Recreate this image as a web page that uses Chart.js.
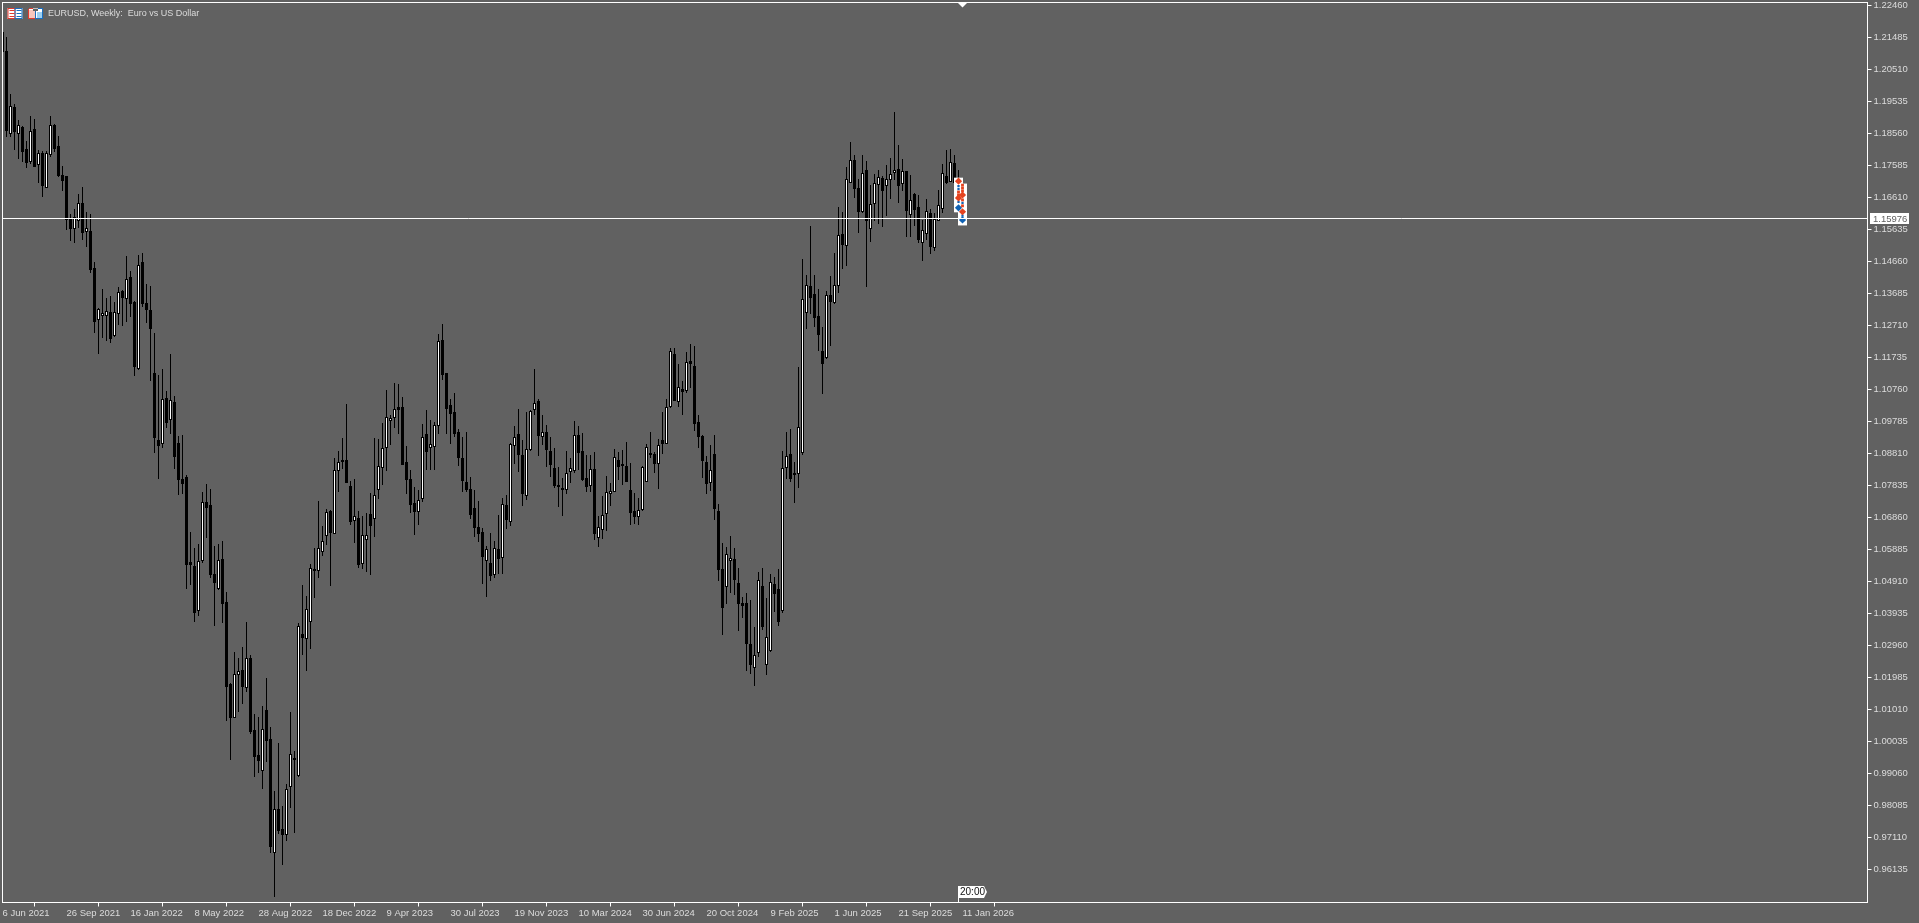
<!DOCTYPE html>
<html>
<head>
<meta charset="utf-8">
<style>html,body{margin:0;padding:0;background:#616161;overflow:hidden}canvas{display:block}</style>
<script src="https://cdn.jsdelivr.net/npm/chart.js@4"></script>
</head>
<body>
<canvas id="c" width="1919" height="923"></canvas>
<script>
const title = "EURUSD, Weekly:  Euro vs US Dollar";
const dateLabels = ["6 Jun 2021","26 Sep 2021","16 Jan 2022","8 May 2022","28 Aug 2022","18 Dec 2022","9 Apr 2023","30 Jul 2023","19 Nov 2023","10 Mar 2024","30 Jun 2024","20 Oct 2024","9 Feb 2025","1 Jun 2025","21 Sep 2025","11 Jan 2026"];
const priceTicks = [1.22460,1.21485,1.20510,1.19535,1.18560,1.17585,1.16610,1.15635,1.14660,1.13685,1.12710,1.11735,1.10760,1.09785,1.08810,1.07835,1.06860,1.05885,1.04910,1.03935,1.02960,1.01985,1.01010,1.00035,0.99060,0.98085,0.97110,0.96135];
const currentPrice = 1.15976;
const timeLabel = "20:00";
const opens = [
1.2164,1.2107,1.1853,1.1936,1.1853,1.1875,1.1808,1.1768,1.1869,1.1759,
1.1796,1.1689,1.1790,1.1881,1.1817,1.1729,1.1726,1.1599,1.1565,1.1589,
1.1644,1.1556,1.1559,1.1446,1.1287,1.1300,1.1300,1.1312,1.1239,1.1306,
1.1376,1.1352,1.1419,1.1342,1.1138,1.1464,1.1339,1.1318,1.1126,1.0921,
1.0909,1.1049,1.0982,1.1037,1.0912,1.0802,1.0809,1.0550,1.0538,1.0401,
1.0553,1.0733,1.0724,1.0514,1.0468,1.0559,1.0428,1.0178,1.0075,1.0206,
1.0221,1.0166,1.0258,1.0038,0.9962,0.9913,1.0099,1.0011,0.9664,0.9798,
0.9737,0.9719,0.9864,0.9953,0.9898,1.0331,1.0316,1.0367,1.0529,1.0523,
1.0580,1.0630,1.0706,1.0636,1.0827,1.0861,1.0861,1.0781,1.0675,1.0684,
1.0544,1.0617,1.0697,1.0681,1.0769,1.0836,1.0897,1.0979,1.0988,1.1022,
1.1022,1.0855,1.0803,1.0730,1.0703,1.0742,1.0939,1.0897,1.0900,1.0964,
1.1226,1.1126,1.1028,1.1006,1.0945,1.0867,1.0793,1.0772,1.0715,1.0657,
1.0642,1.0553,1.0547,1.0511,1.0590,1.0562,1.0724,1.0672,1.0903,1.0939,
1.0876,1.0751,1.0891,1.1013,1.1040,1.0931,1.0945,1.0888,1.0836,1.0784,
1.0775,1.0769,1.0824,1.0827,1.0936,1.0888,1.0806,1.0781,1.0833,1.0624,
1.0648,1.0697,1.0757,1.0763,1.0861,1.0848,1.0842,1.0769,1.0706,1.0687,
1.0709,1.0793,1.0882,1.0879,1.0848,1.0921,1.0909,1.1022,1.1184,1.1037,
1.1077,1.1071,1.1162,1.1147,1.0976,1.0933,1.0855,1.0790,1.0879,1.0706,
1.0529,1.0474,1.0553,1.0559,1.0486,1.0425,1.0425,1.0300,1.0227,1.0273,
1.0477,1.0236,1.0279,1.0483,1.0468,1.0401,1.0836,1.0879,1.0815,1.0818,
1.0882,1.1309,1.1391,1.1367,1.1300,1.1193,1.1171,1.1364,1.1339,1.1391,
1.1549,1.1513,1.1704,1.1774,1.1689,1.1617,1.1744,1.1565,1.1641,1.1698,
1.1720,1.1695,1.1714,1.1735,1.1747,1.1701,1.1741,1.1608,1.1671,1.1632,
1.1522,1.1549,1.1614,1.1507,1.1589,1.1626,1.1726,1.1707,1.1765,1.1698,1.1638];
const highs = [
1.2164,1.2149,1.1975,1.1945,1.1896,1.1878,1.1832,1.1909,1.1900,1.1805,
1.1802,1.1802,1.1909,1.1884,1.1848,1.1756,1.1726,1.1611,1.1626,1.1671,
1.1692,1.1617,1.1611,1.1464,1.1324,1.1382,1.1355,1.1361,1.1342,1.1388,
1.1379,1.1483,1.1437,1.1345,1.1486,1.1492,1.1397,1.1391,1.1248,1.1120,
1.1138,1.1071,1.1184,1.1056,1.0933,1.0936,1.0815,1.0642,1.0593,1.0605,
1.0763,1.0787,1.0772,1.0599,1.0605,1.0614,1.0459,1.0181,1.0276,1.0258,
1.0291,1.0367,1.0267,1.0087,1.0078,1.0111,1.0197,1.0047,0.9852,0.9998,
0.9807,0.9873,1.0093,0.9974,1.0364,1.0480,1.0447,1.0544,1.0593,1.0736,
1.0660,1.0712,1.0709,1.0867,1.0888,1.0928,1.1031,1.0796,1.0803,1.0706,
1.0690,1.0700,1.0760,1.0928,1.0925,1.0973,1.1074,1.0997,1.1095,1.1092,
1.1053,1.0903,1.0830,1.0778,1.0769,1.0970,1.1013,1.0982,1.0976,1.1245,
1.1275,1.1126,1.1046,1.1065,1.0955,1.0931,1.0945,1.0809,1.0769,1.0736,
1.0654,1.0599,1.0639,1.0614,1.0693,1.0745,1.0754,1.0912,1.0964,1.1016,
1.0921,1.1006,1.1013,1.1138,1.1046,1.0997,1.0967,1.0931,1.0897,1.0839,
1.0806,1.0888,1.0867,1.0979,1.0964,1.0942,1.0876,1.0876,1.0885,1.0690,
1.0751,1.0812,1.0790,1.0894,1.0885,1.0891,1.0915,1.0852,1.0760,1.0745,
1.0842,1.0909,1.0945,1.0885,1.0925,1.1006,1.1046,1.1202,1.1202,1.1153,
1.1101,1.1190,1.1214,1.1208,1.0997,1.0936,1.0873,1.0906,1.0936,1.0727,
1.0608,1.0596,1.0630,1.0593,1.0532,1.0444,1.0456,1.0434,1.0352,1.0520,
1.0532,1.0441,1.0514,1.0505,1.0529,1.0888,1.0945,1.0955,1.0855,1.1144,
1.1473,1.1425,1.1574,1.1425,1.1382,1.1266,1.1376,1.1422,1.1492,1.1632,
1.1617,1.1753,1.1829,1.1790,1.1717,1.1790,1.1771,1.1698,1.1732,1.1744,
1.1726,1.1759,1.1781,1.1921,1.1820,1.1778,1.1741,1.1729,1.1674,1.1668,
1.1592,1.1656,1.1626,1.1614,1.1683,1.1762,1.1805,1.1808,1.1790,1.1744,1.1690];
const lows = [
1.2104,1.1844,1.1844,1.1805,1.1778,1.1768,1.1750,1.1762,1.1753,1.1704,
1.1662,1.1689,1.1784,1.1799,1.1723,1.1680,1.1562,1.1528,1.1522,1.1568,
1.1531,1.1510,1.1431,1.1248,1.1184,1.1233,1.1223,1.1217,1.1236,1.1272,
1.1269,1.1281,1.1297,1.1117,1.1135,1.1327,1.1278,1.1101,1.0882,1.0803,
1.0897,1.0958,1.0939,1.0833,1.0754,1.0757,1.0468,1.0480,1.0367,1.0386,
1.0547,1.0624,1.0502,1.0355,1.0465,1.0364,1.0065,0.9946,1.0075,1.0093,
1.0117,1.0154,1.0026,0.9895,0.9907,0.9858,0.9940,0.9664,0.9530,0.9722,
0.9627,0.9700,0.9801,0.9725,0.9895,1.0267,1.0218,1.0285,1.0441,1.0502,
1.0568,1.0602,1.0477,1.0636,1.0763,1.0833,1.0790,1.0663,1.0608,1.0532,
1.0529,1.0520,1.0511,1.0627,1.0742,1.0784,1.0827,1.0906,1.0958,1.0939,
1.0845,1.0757,1.0700,1.0633,1.0663,1.0733,1.0830,1.0830,1.0830,1.0939,
1.1104,1.0939,1.0909,1.0931,1.0842,1.0763,1.0763,1.0681,1.0627,1.0611,
1.0483,1.0444,1.0492,1.0502,1.0514,1.0514,1.0651,1.0660,1.0848,1.0824,
1.0721,1.0739,1.0888,1.0997,1.0873,1.0906,1.0839,1.0809,1.0775,1.0718,
1.0690,1.0757,1.0790,1.0821,1.0830,1.0796,1.0763,1.0763,1.0617,1.0596,
1.0620,1.0645,1.0721,1.0763,1.0799,1.0784,1.0793,1.0663,1.0666,1.0663,
1.0706,1.0793,1.0867,1.0821,1.0772,1.0879,1.0909,1.1019,1.1040,1.1022,
1.0997,1.1065,1.1080,1.0948,1.0897,1.0806,1.0757,1.0766,1.0678,1.0492,
1.0328,1.0422,1.0456,1.0450,1.0340,1.0379,1.0218,1.0209,1.0172,1.0261,
1.0343,1.0206,1.0276,1.0398,1.0355,1.0395,1.0803,1.0793,1.0730,1.0775,
1.0876,1.1260,1.1306,1.1266,1.1193,1.1062,1.1168,1.1208,1.1336,1.1370,
1.1443,1.1452,1.1704,1.1659,1.1552,1.1614,1.1388,1.1525,1.1589,1.1580,
1.1571,1.1605,1.1656,1.1714,1.1644,1.1680,1.1540,1.1540,1.1574,1.1522,
1.1467,1.1531,1.1489,1.1498,1.1589,1.1614,1.1701,1.1707,1.1692,1.1629,1.1590];
const closes = [
1.2104,1.1863,1.1939,1.1859,1.1881,1.1798,1.1765,1.1863,1.1753,1.1796,
1.1695,1.1796,1.1881,1.1808,1.1726,1.1710,1.1592,1.1565,1.1602,1.1644,
1.1552,1.1568,1.1440,1.1281,1.1321,1.1309,1.1315,1.1230,1.1312,1.1373,
1.1355,1.1413,1.1336,1.1144,1.1455,1.1336,1.1318,1.1260,1.0928,1.0903,
1.1046,1.0973,1.1043,1.0870,1.0799,1.0787,1.0541,1.0541,1.0395,1.0553,
1.0733,1.0715,1.0511,1.0486,1.0556,1.0422,1.0169,1.0075,1.0209,1.0218,
1.0169,1.0258,1.0032,0.9956,0.9943,1.0041,1.0004,0.9682,0.9798,0.9731,
0.9719,0.9858,0.9965,0.9946,1.0355,1.0319,1.0407,1.0532,1.0523,1.0593,
1.0614,1.0703,1.0639,1.0830,1.0855,1.0855,1.0790,1.0672,1.0690,1.0541,
1.0633,1.0633,1.0660,1.0754,1.0842,1.0897,1.0991,1.0988,1.1016,1.1013,
1.0845,1.0799,1.0724,1.0703,1.0739,1.0931,1.0885,1.0909,1.0967,1.1223,
1.1120,1.1016,1.1000,1.0939,1.0867,1.0796,1.0769,1.0693,1.0654,1.0636,
1.0565,1.0590,1.0508,1.0593,1.0559,1.0727,1.0678,1.0909,1.0931,1.0876,
1.0757,1.0894,1.1010,1.1034,1.0933,1.0945,1.0891,1.0845,1.0781,1.0778,
1.0769,1.0821,1.0836,1.0936,1.0882,1.0799,1.0778,1.0833,1.0636,1.0657,
1.0693,1.0763,1.0766,1.0870,1.0839,1.0842,1.0793,1.0700,1.0687,1.0709,
1.0839,1.0900,1.0876,1.0848,1.0906,1.0909,1.1022,1.1193,1.1040,1.1083,
1.1068,1.1159,1.1153,1.0970,1.0931,1.0858,1.0787,1.0830,1.0712,1.0526,
1.0410,1.0574,1.0562,1.0495,1.0422,1.0416,1.0300,1.0236,1.0267,1.0495,
1.0352,1.0322,1.0489,1.0453,1.0367,1.0836,1.0873,1.0803,1.0821,1.0961,
1.1352,1.1394,1.1355,1.1293,1.1242,1.1153,1.1364,1.1342,1.1394,1.1546,
1.1516,1.1717,1.1774,1.1686,1.1617,1.1735,1.1589,1.1641,1.1704,1.1723,
1.1680,1.1717,1.1732,1.1744,1.1695,1.1741,1.1620,1.1653,1.1623,1.1531,
1.1562,1.1620,1.1510,1.1595,1.1638,1.1735,1.1704,1.1768,1.1704,1.1638,1.1598];
// trade-history markers on the two newest bars: [bar index, price]
const markerHalo = [[239,1.1707],[239,1.1686],[239,1.1665],[239,1.1644],[239,1.1629],[240,1.1689],[240,1.1668],[240,1.1647],[240,1.1626],[240,1.1605],[240,1.1589]];
const redBig = [[239,1.1710],[239,1.1659],[240,1.1668],[240,1.1617]];
const redSmall = [[239,1.1677],[239,1.1668],[240,1.1698],[240,1.1689],[240,1.1680],[240,1.1653],[240,1.1635]];
const blueBig = [[239,1.1629],[240,1.1592]];
const blueSmall = [[239,1.1695],[239,1.1686],[239,1.1647],[240,1.1644],[240,1.1605]];

const FONT = '"Liberation Sans", Arial, sans-serif';
const BG = '#616161', TXT = '#dcdcdc';
const toPts = a => a.map(p => ({x:p[0], y:p[1]}));
const isBull = i => closes[i] > opens[i];
const firstBar = 0, slotsShown = 466.25;
const noPad = s => { s.paddingTop = s.paddingBottom = s.paddingLeft = s.paddingRight = 0; };

const pixelSnap = {
  id:'pixelSnap',
  afterDatasetsUpdate(chart){
    chart.data.datasets.forEach((d,di)=>{
      if(d.type!=='bar') return;
      chart.getDatasetMeta(di).data.forEach(el=>{
        el.y=Math.round(el.y); el.base=Math.round(el.base);
      });
    });
  }
};
const chrome = {
  id:'chrome',
  afterDatasetsDraw(chart){
    const {ctx,chartArea:a,scales:{x,y}}=chart;
    ctx.save();
    // price line
    const py=Math.floor(y.getPixelForValue(currentPrice))+0.5;
    ctx.strokeStyle='#fff'; ctx.lineWidth=1;
    ctx.beginPath(); ctx.moveTo(a.left,py); ctx.lineTo(a.right,py); ctx.stroke();
    // frame
    ctx.strokeRect(a.left,a.top,a.right-a.left,a.bottom-a.top);
    // price tag
    ctx.fillStyle='#fff'; ctx.fillRect(1870,py-5.5,39,11);
    ctx.fillStyle=BG; ctx.font='9.5px '+FONT; ctx.textAlign='left'; ctx.textBaseline='middle';
    ctx.fillText(currentPrice.toFixed(5),1873,py+0.5);
    // shift marker on top
    const lx=x.getPixelForValue(opens.length-1);
    ctx.fillStyle='#fff';
    ctx.beginPath(); ctx.moveTo(lx-5,a.top); ctx.lineTo(lx+5,a.top); ctx.lineTo(lx,a.top+5); ctx.closePath(); ctx.fill();
    // time tag
    const tx=x.getPixelForValue(opens.length-2)-0.5, tt=886, tb=898;
    ctx.fillRect(tx,tb,1,a.bottom-tb);
    ctx.beginPath(); ctx.moveTo(tx,tt); ctx.lineTo(tx+26,tt); ctx.lineTo(tx+29,(tt+tb)/2); ctx.lineTo(tx+26,tb); ctx.lineTo(tx,tb); ctx.closePath(); ctx.fill();
    ctx.fillStyle='#111'; ctx.font='10px '+FONT;
    ctx.fillText(timeLabel,tx+2,(tt+tb)/2+0.5);
    // title
    ctx.fillStyle=TXT; ctx.font='9px '+FONT;
    ctx.fillText(title,48,14);
    // header icons
    const icon=(ix,split)=>{
      ctx.fillStyle='#fff'; ctx.fillRect(ix,8,15,11);
      ctx.strokeStyle='#e23a2e'; ctx.strokeRect(ix+.5,8.5,7,10);
      ctx.strokeStyle='#1a6fc0'; ctx.strokeRect(ix+7.5,8.5,7,10);
      if(!split){
        ctx.fillStyle='#e23a2e'; [10,13,16].forEach(v=>ctx.fillRect(ix+2,v,5,1));
        ctx.fillStyle='#1a6fc0'; [10,13,16].forEach(v=>ctx.fillRect(ix+9,v,5,1));
      }else{
        ctx.fillStyle='#f7c6bd'; ctx.fillRect(ix+1,10,6,8);
        ctx.fillStyle='#9dd0f2'; ctx.fillRect(ix+9,12,5,6);
        ctx.fillStyle=BG; ctx.fillRect(ix,8,1,1); ctx.fillRect(ix+5,8,5,3);
        ctx.fillStyle='#c0c0c0'; ctx.fillRect(ix+5,8,5,1);
      }
    };
    icon(7.5,false); icon(28,true);
    ctx.restore();
  }
};

new Chart(document.getElementById('c'),{
  type:'bar',
  data:{datasets:[
    {type:'bar',label:'wick',order:3,barThickness:1,grouped:false,inflateAmount:0,borderWidth:0,borderSkipped:false,backgroundColor:'#000',
     data:opens.map((_,i)=>({x:i,y:[lows[i],highs[i]]}))},
    {type:'bar',label:'body',order:2,barThickness:3,grouped:false,inflateAmount:0,borderWidth:1,borderSkipped:false,borderColor:'#000',
     backgroundColor:opens.map((_,i)=>isBull(i)?'#fff':'#000'),
     data:opens.map((_,i)=>({x:i,y:[opens[i],closes[i]]}))},
    {type:'line',label:'halo',order:1,showLine:false,clip:false,pointStyle:'rect',pointRadius:6.4,pointBorderWidth:0,pointBackgroundColor:'#fff',data:toPts(markerHalo)},
    {type:'line',label:'sell',order:0,showLine:false,clip:false,pointStyle:'rectRot',pointRadius:3.6,pointBorderWidth:0,pointBackgroundColor:'#e5431f',data:toPts(redBig)},
    {type:'line',label:'sellClose',order:0,showLine:false,clip:false,pointStyle:'rect',pointRadius:2,pointBorderWidth:0,pointBackgroundColor:'#e5431f',data:toPts(redSmall)},
    {type:'line',label:'buy',order:0,showLine:false,clip:false,pointStyle:'rectRot',pointRadius:3.6,pointBorderWidth:0,pointBackgroundColor:'#0f62b4',data:toPts(blueBig)},
    {type:'line',label:'buyClose',order:0,showLine:false,clip:false,pointStyle:'rect',pointRadius:1.6,pointBorderWidth:0,pointBackgroundColor:'#0f62b4',data:toPts(blueSmall)}
  ]},
  options:{
    responsive:false,animation:false,devicePixelRatio:1,
    layout:{autoPadding:false,padding:{left:2.5,top:2.5,right:0,bottom:0}},
    plugins:{legend:{display:false},tooltip:{enabled:false},title:{display:false}},
    scales:{
      x:{type:'linear',position:'bottom',offset:false,min:firstBar,max:slotsShown,
        border:{display:false},
        grid:{drawOnChartArea:false,drawTicks:true,tickLength:4,tickColor:'#fff',tickWidth:1},
        ticks:{autoSkip:false,maxRotation:0,minRotation:0,align:'start',padding:1,color:TXT,font:{family:FONT,size:9.5},
          callback:(v)=>dateLabels[Math.round(v/16)]},
        afterBuildTicks:s=>{s.ticks=dateLabels.map((_,k)=>({value:k*16}));},
        afterFit:s=>{s.height=20.5;noPad(s);}},
      y:{type:'linear',position:'right',min:0.95123,max:1.22545,
        border:{display:false},
        grid:{drawOnChartArea:false,drawTicks:true,tickLength:4,tickColor:'#fff',tickWidth:1},
        ticks:{autoSkip:false,padding:2,color:TXT,font:{family:FONT,size:9.5},callback:v=>v.toFixed(5)},
        afterBuildTicks:s=>{s.ticks=priceTicks.map(v=>({value:v}));},
        afterFit:s=>{s.width=51.5;noPad(s);}}
    }
  },
  plugins:[pixelSnap,chrome]
});
</script>
</body>
</html>
